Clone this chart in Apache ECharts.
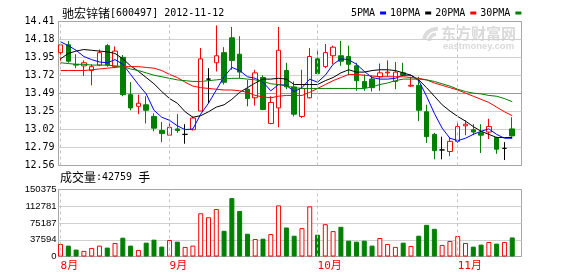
<!DOCTYPE html>
<html><head><meta charset="utf-8">
<script src="https://cdn.jsdelivr.net/npm/echarts@6/dist/echarts.min.js"></script>
<style>html,body{margin:0;padding:0;background:#fff}#c{width:578px;height:276px}</style>
</head><body><div id="c"></div>
<script>
const stockTitle = '驰宏锌锗[600497] 2012-11-12';
const volumeTitle = '成交量:42759 手';
const dates = [
 '2012-08-14','2012-08-15','2012-08-16','2012-08-17','2012-08-20','2012-08-21','2012-08-22','2012-08-23','2012-08-24','2012-08-27','2012-08-28','2012-08-29','2012-08-30','2012-08-31',
 '2012-09-03','2012-09-04','2012-09-05','2012-09-06','2012-09-07','2012-09-10','2012-09-11','2012-09-12','2012-09-13','2012-09-14','2012-09-17','2012-09-18','2012-09-19','2012-09-20','2012-09-21','2012-09-24','2012-09-25','2012-09-26','2012-09-27',
 '2012-10-08','2012-10-09','2012-10-10','2012-10-11','2012-10-12','2012-10-15','2012-10-16','2012-10-17','2012-10-18','2012-10-19','2012-10-22','2012-10-23','2012-10-24','2012-10-25','2012-10-26','2012-10-29','2012-10-30','2012-10-31',
 '2012-11-01','2012-11-02','2012-11-05','2012-11-06','2012-11-07','2012-11-08','2012-11-09','2012-11-12'];
const monthLabels = ['8月','9月','10月','11月'];
const open = [14.01,14.11,13.86,13.84,13.78,13.85,14.10,13.83,13.95,13.47,
 13.32,13.34,13.19,13.01,12.95,13.03,12.96,13.02,13.26,13.67,
 13.88,14.01,14.20,13.99,13.54,13.43,13.69,13.10,13.30,13.78,
 13.57,13.19,13.43,13.93,13.83,13.97,13.97,13.96,13.84,13.64,
 13.67,13.70,13.75,13.64,13.75,13.58,13.59,13.25,12.96,12.76,
 12.74,12.87,13.07,13.02,12.98,12.99,12.92,12.78,13.03];
const close = [14.11,13.90,13.85,13.88,13.83,14.01,13.85,14.03,13.47,13.30,
 13.36,13.27,13.04,12.97,13.05,13.01,12.96,13.17,13.93,13.67,
 13.97,13.63,13.91,13.76,13.42,13.75,13.28,13.37,14.04,13.57,
 13.22,13.55,13.96,13.74,14.01,14.08,13.90,13.86,13.65,13.56,
 13.56,13.75,13.76,13.76,13.72,13.59,13.27,12.93,12.75,12.76,
 12.87,13.06,13.09,12.99,12.95,13.06,12.77,12.78,12.94];
const low = [13.86,13.88,13.81,13.71,13.59,13.84,13.83,13.81,13.45,13.27,
 13.22,13.10,13.00,12.86,12.95,12.98,12.84,13.01,13.26,13.36,
 13.77,13.60,13.79,13.68,13.32,13.33,13.27,13.09,13.05,13.54,
 13.19,13.17,13.42,13.72,13.81,13.86,13.84,13.72,13.52,13.52,
 13.51,13.52,13.70,13.54,13.71,13.57,13.13,12.85,12.64,12.64,
 12.68,12.85,12.95,12.95,12.72,12.90,12.71,12.63,12.93];
const high = [14.12,14.16,13.99,13.91,13.86,14.05,14.12,14.09,13.98,13.63,
 13.47,13.45,13.23,13.12,13.15,13.22,13.09,13.19,14.07,13.81,
 14.36,14.08,14.34,14.22,13.66,13.79,13.72,13.45,14.34,13.88,
 13.64,13.79,14.07,14.05,14.12,14.10,14.16,14.10,13.88,13.73,
 13.72,13.87,13.91,13.89,13.88,13.70,13.70,13.34,12.98,12.93,
 12.92,13.12,13.14,13.09,13.09,13.16,12.93,12.86,13.18];
const volume = [28140,24430,15550,12590,19250,24430,19990,30360,42200,24430,
 14800,31100,37760,22210,37020,33320,21470,24430,97000,88110,
 106620,57750,131050,102180,51090,39250,39980,50350,114770,65150,
 46650,63680,112540,48870,72560,57010,66640,35540,33320,35540,
 24430,41460,28140,21470,31100,23690,46650,71080,62190,25910,
 34800,45920,30360,22210,26650,32580,28880,32580,42759];
const ma5 = [14.15,14.10,14.04,13.96,13.92,13.89,13.88,13.92,13.86,13.73,
 13.60,13.48,13.27,13.18,13.14,13.07,13.02,13.03,13.22,13.36,
 13.53,13.70,13.82,13.78,13.70,13.68,13.63,13.52,13.60,13.59,
 13.51,13.56,13.67,13.63,13.72,13.86,13.93,13.92,13.86,13.77,
 13.69,13.67,13.67,13.68,13.72,13.72,13.65,13.45,13.23,13.04,
 12.91,12.88,12.91,12.96,13.00,13.03,12.96,12.91,12.91];
const ma10 = [13.93,14.00,14.03,14.05,14.04,14.03,14.02,14.00,13.93,13.84,
 13.77,13.69,13.61,13.51,13.42,13.36,13.25,13.18,13.20,13.25,
 13.31,13.34,13.41,13.50,13.56,13.62,13.67,13.67,13.68,13.67,
 13.60,13.60,13.60,13.60,13.65,13.69,13.75,13.79,13.76,13.76,
 13.78,13.79,13.79,13.78,13.75,13.72,13.66,13.56,13.45,13.34,
 13.26,13.19,13.13,13.06,13.00,12.96,12.92,12.92,12.92];
const ma20 = [13.78,13.78,13.78,13.78,13.79,13.80,13.81,13.82,13.83,13.83,
 13.83,13.82,13.81,13.78,13.73,13.69,13.63,13.58,13.56,13.55,
 13.54,13.53,13.53,13.52,13.50,13.46,13.44,13.43,13.45,13.46,
 13.46,13.46,13.50,13.55,13.60,13.65,13.69,13.73,13.73,13.72,
 13.71,13.70,13.70,13.70,13.70,13.69,13.68,13.66,13.62,13.59,
 13.56,13.53,13.49,13.45,13.41,13.37,13.31,13.25,13.20];
const ma30 = [13.88,13.87,13.86,13.86,13.85,13.85,13.85,13.84,13.83,13.80,
 13.78,13.75,13.72,13.70,13.68,13.66,13.65,13.64,13.64,13.65,
 13.66,13.67,13.68,13.68,13.67,13.66,13.64,13.61,13.60,13.58,
 13.56,13.55,13.55,13.55,13.55,13.55,13.55,13.55,13.55,13.55,
 13.57,13.60,13.62,13.65,13.67,13.67,13.67,13.66,13.64,13.61,
 13.58,13.54,13.51,13.49,13.48,13.46,13.45,13.42,13.38];
const priceTicks = ['12.56','12.79','13.02','13.25','13.49','13.72','13.95','14.18','14.41'];
const volumeTicks = ['0','37594','75187','112781','150375'];
const maNames = ['5PMA','10PMA','20PMA','30PMA'];
const maColors = ['#0000ff','#000000','#ff0000','#008000'];

const PMIN = +priceTicks[0], PMAX = +priceTicks[priceTicks.length-1];
const PINT = (PMAX - PMIN) / (priceTicks.length - 1);
const VMAX = +volumeTicks[volumeTicks.length-1];
const VINT = VMAX / (volumeTicks.length - 1);
const XMIN = -0.26, XMAX = dates.length + 0.19;
const monthStarts = dates.map((d,i)=>i).filter(i => i===0 || dates[i].slice(5,7) !== dates[i-1].slice(5,7));

const RED = '#ff0000', GREEN = '#008000';
function richWrap(s){
  return s.replace(/([\u3000-\u9fff\uff00-\uffef]+)|([^\u3000-\u9fff\uff00-\uffef]+)/g,
    (m,c,a) => c ? '{c|'+c+'}' : '{a|'+a+'}');
}
const richStyles = {
  c:{fontFamily:'Noto Sans CJK SC', fontSize:12, fill:'#000', color:'#000'},
  a:{fontFamily:'DejaVu Sans Mono', fontSize:10, fill:'#000', color:'#000'}
};
const monthMarkLine = {
  silent:true, symbol:['none','none'], label:{show:false}, animation:false,
  lineStyle:{type:[3,3], color:'#c4c4c4', width:1},
  data: monthStarts.map(i => ({xAxis:i}))
};

const chart = echarts.init(document.getElementById('c'), null, {renderer:'canvas'});
chart.setOption({
  animation:false,
  backgroundColor:'#fff',
  legend:{
    data:maNames, left:351, top:8, icon:'rect', itemWidth:6, itemHeight:3, itemGap:4,
    align:'right', selectedMode:false, padding:0,
    textStyle:{fontFamily:'DejaVu Sans Mono', fontSize:10, color:'#000'}
  },
  graphic:[
    {type:'text', left:62, top:7, style:{text:richWrap(stockTitle), rich:richStyles}},
    {type:'text', left:60, top:171, style:{text:richWrap(volumeTitle), rich:richStyles}},
    {type:'sector', z:-1, shape:{cx:436, cy:41, r:14, r0:10, startAngle:Math.PI*1.05, endAngle:Math.PI*1.55}, style:{fill:'#dcdcdc'}},
    {type:'sector', z:-1, shape:{cx:436, cy:41, r:8.5, r0:5, startAngle:Math.PI*1.0, endAngle:Math.PI*1.5}, style:{fill:'#dcdcdc'}},
    {type:'text', left:441, top:26, z:-1, style:{text:'东方财富网', fontFamily:'Noto Sans CJK SC', fontWeight:'bold', fontSize:15, fill:'#dadada'}},
    {type:'text', left:443, top:41, z:-1, style:{text:'eastmoney.com', fontFamily:'Liberation Sans', fontWeight:'bold', fontSize:9.5, fill:'#dadada'}}
  ],
  grid:[
    {left:58.5, top:21.5, width:463, height:144, show:true, borderColor:'#a6a6a6', borderWidth:1, backgroundColor:'transparent'},
    {left:58.5, top:189.5, width:463, height:67, show:true, borderColor:'#a6a6a6', borderWidth:1, backgroundColor:'transparent'}
  ],
  xAxis:[
    {gridIndex:0, type:'value', min:XMIN, max:XMAX, axisLine:{show:false}, axisTick:{show:false}, axisLabel:{show:false}, splitLine:{show:false}},
    {gridIndex:1, type:'value', min:XMIN, max:XMAX, axisLine:{show:false}, axisTick:{show:false}, splitLine:{show:false},
     axisLabel:{show:true, customValues:monthStarts, color:RED, fontFamily:'DejaVu Sans Mono, Noto Sans CJK SC', fontSize:11, margin:4, align:'left',
       formatter: v => { const k = monthStarts.indexOf(Math.round(v)); return k >= 0 ? monthLabels[k] : ''; }}}
  ],
  yAxis:[
    {gridIndex:0, type:'value', min:PMIN, max:PMAX, interval:PINT, axisLine:{show:false}, axisTick:{show:false},
     axisLabel:{margin:4, fontFamily:'DejaVu Sans Mono', fontSize:10, color:'#000', padding:[0,0,3,0],
       formatter: v => priceTicks[Math.round((v - PMIN)/PINT)]},
     splitLine:{show:true, lineStyle:{width:1, color:['#a6a6a6','#d0d0d0','#d0d0d0','#d0d0d0','#9a9a9a','#d0d0d0','#d0d0d0','#d0d0d0','#a6a6a6']}}},
    {gridIndex:1, type:'value', min:0, max:VMAX, interval:VINT, axisLine:{show:false}, axisTick:{show:false},
     axisLabel:{margin:2, fontFamily:'Liberation Sans', fontSize:9.5, color:'#000', padding:[4,0,0,0],
       formatter: v => volumeTicks[Math.round(v / VINT)]},
     splitLine:{show:true, lineStyle:{width:1, color:['#a6a6a6','#d0d0d0','#d0d0d0','#d0d0d0','#a6a6a6']}}}
  ],
  series:[
    {type:'candlestick', name:'K', xAxisIndex:0, yAxisIndex:0, barWidth:5, z:2,
     data: dates.map((d,i) => [i, open[i], close[i], low[i], high[i]]),
     itemStyle:{color:'#ffffff', color0:GREEN, borderColor:RED, borderColor0:GREEN, borderColorDoji:'#000000', borderWidth:1},
     markLine: monthMarkLine},
    ...[ma5, ma10, ma20, ma30].map((arr,k) => ({
      type:'line', name:maNames[k], xAxisIndex:0, yAxisIndex:0, z:3,
      data: arr.map((v,i) => [i, v]), showSymbol:false, symbol:'none', color:maColors[k],
      lineStyle:{color:maColors[k], width:1}, itemStyle:{color:maColors[k]}
    })),
    {type:'bar', name:'VOL', xAxisIndex:1, yAxisIndex:1, barWidth:5,
     data: volume.map((v,i) => ({value:[i, v],
       itemStyle: close[i] >= open[i] ? {color:'#ffffff', borderColor:RED, borderWidth:1} : {color:GREEN, borderColor:GREEN, borderWidth:1}})),
     markLine: monthMarkLine}
  ]
});
</script></body></html>
